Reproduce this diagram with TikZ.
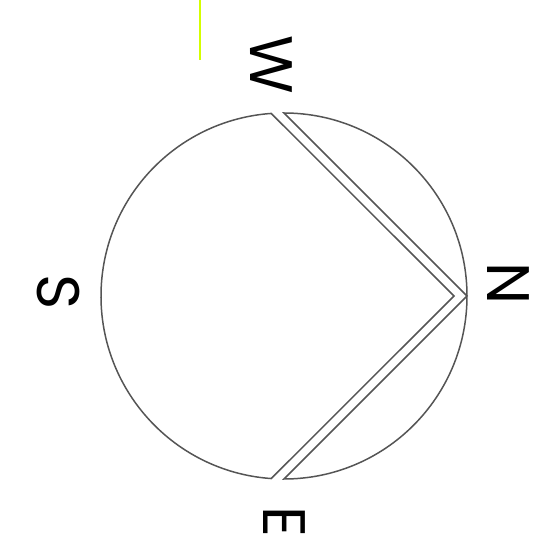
\documentclass[tikz,border=0pt]{standalone}
\usepackage{fontspec}
\setmainfont{Poppins}
\usetikzlibrary{calc}
\definecolor{limeline}{RGB}{212,255,0}
\definecolor{rimgray}{RGB}{85,85,85}
\begin{document}
\begin{tikzpicture}[x=1pt, y=1pt,
    rim/.style={draw=rimgray, line width=1.5pt, line join=miter},
    compass/.style={inner sep=0pt, rotate=-90, font=\fontsize{60}{60}\selectfont}]
        \useasboundingbox (0, 0) rectangle (553, 554);
        \coordinate (c) at (284, 258);
        
        % left part of the dial
        \draw[rim] ($(c)+(94:183)$) coordinate (tl) -- (454, 258) coordinate (vin)
            -- ($(c)+(-94:183)$) coordinate (bl)
            arc[start angle=266, end angle=94, radius=183] -- cycle;
        % the lens on the right
        \draw[rim] ($(c)+(90:183)$) coordinate (tr) -- (467, 258) coordinate (vout)
            -- ($(c)+(-90:183)$) coordinate (br)
            arc[start angle=-90, end angle=90, radius=183] -- cycle;
        
        \node[compass] (w) at (271.5, 489) {W};
        \node[compass] (s) at (58, 262) {S};
        \node[compass] (n) at (508, 270) {N};
        \node[compass] (e) at (284, 32) {E};
        
        \coordinate (gtop) at (200, 554);
        \coordinate (gbot) at (200, 494);
        \draw[limeline, line width=2pt] (gtop) -- (gbot);
    \end{tikzpicture}
\end{document}
